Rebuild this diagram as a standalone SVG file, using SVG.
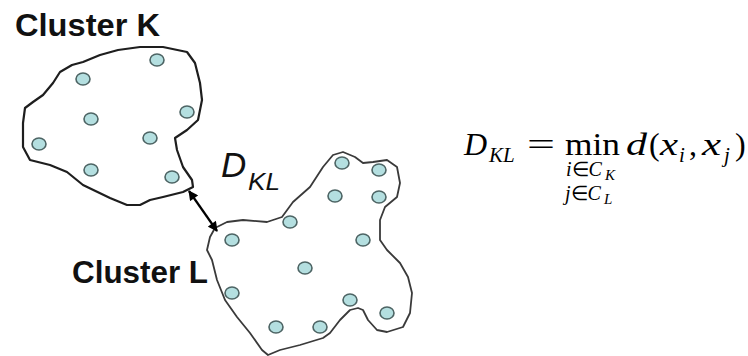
<svg xmlns="http://www.w3.org/2000/svg" width="748" height="356" viewBox="0 0 748 356">
<defs>
<style>
.outline{fill:none;stroke-linejoin:round;stroke-linecap:round}
.k{stroke:#1e1e1e;stroke-width:2.2}
.l{stroke:#3a3a3a;stroke-width:1.8}
.dot{fill:#b4dfe0;stroke:#4d6464;stroke-width:1.6}
.lbl{font-family:"Liberation Sans",Arial,sans-serif;font-weight:bold;fill:#111}
.dk{font-family:"Liberation Sans",Arial,sans-serif;font-style:italic;fill:#111}
.m{font-family:"Liberation Serif","Times New Roman",serif;fill:#000}
.it{font-style:italic}
</style>
<marker id="ah" viewBox="0 0 10 10" refX="9" refY="5" markerWidth="5" markerHeight="4.5" orient="auto-start-reverse" markerUnits="strokeWidth">
<path d="M0,0 L10,5 L0,10 z" fill="#000"/>
</marker>
</defs>
<rect width="748" height="356" fill="#fff"/>

<g id="cluster-k">
<path class="outline k" d="M83,62 L100,55 L118,50 L140,47 L163,47 L187,52 L195,63 L200,83 L202,100 L198,120 L187,130 L175,138 L177,150 L183,167 L192,180 L193,187 L183,192 L163,197 L150,200 L140,205 L127,205 L110,198 L83,185 L67,172 L50,165 L30,160 L23,147 L23,123 L25,108 L33,102 L43,95 L53,83 L60,72 L72,65 Z"/>
<ellipse class="dot" cx="157" cy="60" rx="7" ry="6"/>
<ellipse class="dot" cx="83" cy="79" rx="7" ry="6"/>
<ellipse class="dot" cx="187" cy="112" rx="7" ry="6"/>
<ellipse class="dot" cx="91" cy="119" rx="7" ry="6"/>
<ellipse class="dot" cx="150" cy="138" rx="7" ry="6"/>
<ellipse class="dot" cx="39" cy="144" rx="7" ry="6"/>
<ellipse class="dot" cx="91" cy="170" rx="7" ry="6"/>
<ellipse class="dot" cx="172" cy="177" rx="7" ry="6"/>
<text class="lbl" x="15" y="36" font-size="31" textLength="145" lengthAdjust="spacingAndGlyphs">Cluster K</text>
</g>

<g id="cluster-l">
<path class="outline l" d="M207,250 L210,237 L215,228 L227,222 L243,220 L267,222 L282,217 L293,202 L310,187 L323,167 L333,155 L343,152 L355,157 L363,163 L373,162 L387,160 L397,167 L400,183 L397,197 L385,207 L380,220 L380,240 L387,250 L400,263 L408,277 L412,293 L410,313 L403,327 L387,332 L377,330 L368,320 L363,310 L358,308 L350,310 L340,320 L330,333 L323,338 L300,345 L280,350 L268,355 L262,350 L250,333 L237,317 L225,300 L217,280 L212,260 Z"/>
<ellipse class="dot" cx="342" cy="163" rx="7" ry="6"/>
<ellipse class="dot" cx="379" cy="170" rx="7" ry="6"/>
<ellipse class="dot" cx="335" cy="196" rx="7" ry="6"/>
<ellipse class="dot" cx="379" cy="197" rx="7" ry="6"/>
<ellipse class="dot" cx="290" cy="222" rx="7" ry="6"/>
<ellipse class="dot" cx="232" cy="240" rx="7" ry="6"/>
<ellipse class="dot" cx="363" cy="240" rx="7" ry="6"/>
<ellipse class="dot" cx="305" cy="268" rx="7" ry="6"/>
<ellipse class="dot" cx="232" cy="293" rx="7" ry="6"/>
<ellipse class="dot" cx="350" cy="300" rx="7" ry="6"/>
<ellipse class="dot" cx="387" cy="313" rx="7" ry="6"/>
<ellipse class="dot" cx="276" cy="327" rx="7" ry="6"/>
<ellipse class="dot" cx="320" cy="327" rx="7" ry="6"/>
<text class="lbl" x="72" y="283" font-size="31" textLength="136" lengthAdjust="spacingAndGlyphs">Cluster L</text>
</g>

<g id="connectors">
<line x1="189" y1="191" x2="217" y2="231" stroke="#000" stroke-width="2.2" marker-start="url(#ah)" marker-end="url(#ah)"/>
</g>

<g id="distance-label">
<text class="dk" x="221" y="177" font-size="35">D</text>
<text class="dk" x="248" y="190" font-size="23" textLength="32" lengthAdjust="spacingAndGlyphs">KL</text>
</g>

<g id="formula" class="m">
<text class="it" x="464" y="155" font-size="32">D</text>
<text class="it" x="489" y="162" font-size="21">KL</text>
<text x="527" y="155" font-size="32" textLength="28" lengthAdjust="spacingAndGlyphs">=</text>
<text x="565" y="155" font-size="32" textLength="55" lengthAdjust="spacingAndGlyphs">min</text>
<text x="566" y="176" font-size="20"><tspan class="it">i</tspan>∈<tspan class="it">C</tspan></text>
<text class="it" x="605" y="180" font-size="15">K</text>
<text x="565" y="200" font-size="20"><tspan class="it">j</tspan>∈<tspan class="it">C</tspan></text>
<text class="it" x="604" y="204" font-size="15">L</text>
<text class="it" x="626" y="155" font-size="32" textLength="21" lengthAdjust="spacingAndGlyphs">d</text>
<text x="649" y="155" font-size="32">(</text>
<text class="it" x="660" y="155" font-size="32" textLength="18" lengthAdjust="spacingAndGlyphs">x</text>
<text class="it" x="679" y="162" font-size="21">i</text>
<text x="689" y="155" font-size="32">,</text>
<text class="it" x="702" y="155" font-size="32" textLength="19" lengthAdjust="spacingAndGlyphs">x</text>
<text class="it" x="724" y="162" font-size="21">j</text>
<text x="735" y="155" font-size="32">)</text>
</g>
</svg>
